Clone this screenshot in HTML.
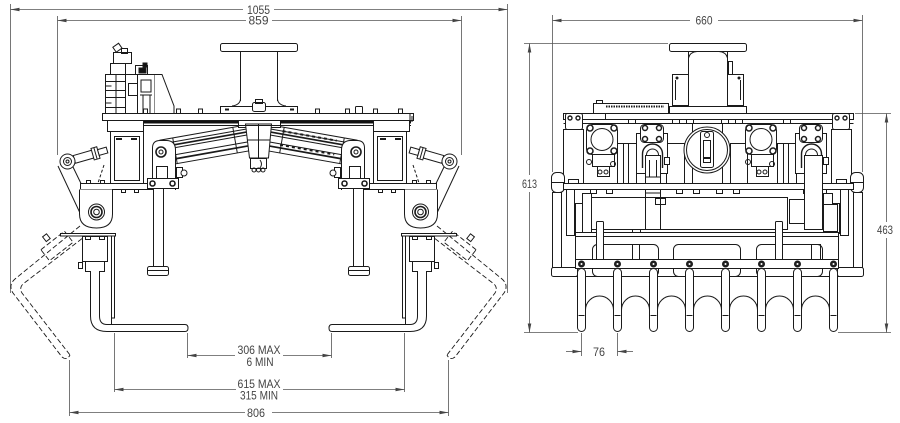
<!DOCTYPE html>
<html><head><meta charset="utf-8"><style>
html,body{margin:0;padding:0;background:#fff;}
svg{display:block;}
text{font-family:"Liberation Sans",sans-serif;font-size:11.5px;fill:#444;}
</style></head><body>
<svg width="900" height="423" viewBox="0 0 900 423" xmlns="http://www.w3.org/2000/svg">
<defs>
<marker id="a" viewBox="0 0 10 4" refX="10" refY="2" markerWidth="9" markerHeight="3.6" markerUnits="userSpaceOnUse" orient="auto"><path d="M0,0 L10,2 L0,4 Z" fill="#444"/></marker>
</defs>

<!-- ================= DIMENSIONS LEFT VIEW ================= -->
<g stroke="#555" stroke-width="0.8" fill="none">
<path d="M10.5,4 V293 M507.5,4 V293"/>
<path d="M243,9.5 H10.5" marker-end="url(#a)"/><path d="M274,9.5 H507.5" marker-end="url(#a)"/>
<path d="M57.5,16 V155 M461.5,16 V155"/>
<path d="M246,20.5 H57.5" marker-end="url(#a)"/><path d="M272,20.5 H461.5" marker-end="url(#a)"/>
<path d="M187.5,333 V358 M331.5,333 V358"/>
<path d="M235,355.5 H187.5" marker-end="url(#a)"/><path d="M283,355.5 H331.5" marker-end="url(#a)"/>
<path d="M114.5,333 V392 M404.5,333 V392"/>
<path d="M236,389.5 H114.5" marker-end="url(#a)"/><path d="M283,389.5 H404.5" marker-end="url(#a)"/>
<path d="M69.5,360 V416 M448.5,360 V416"/>
<path d="M245,412.5 H69.5" marker-end="url(#a)"/><path d="M272,412.5 H448.5" marker-end="url(#a)"/>
</g>
<text x="258.5" y="14" text-anchor="middle" textLength="23" lengthAdjust="spacingAndGlyphs">1055</text>
<text x="258.5" y="24.5" text-anchor="middle" textLength="20" lengthAdjust="spacingAndGlyphs">859</text>
<text x="259" y="354" text-anchor="middle" textLength="43" lengthAdjust="spacingAndGlyphs">306 MAX</text>
<text x="260" y="366" text-anchor="middle" textLength="27" lengthAdjust="spacingAndGlyphs">6 MIN</text>
<text x="259" y="388" text-anchor="middle" textLength="43" lengthAdjust="spacingAndGlyphs">615 MAX</text>
<text x="259" y="399.5" text-anchor="middle" textLength="38" lengthAdjust="spacingAndGlyphs">315 MIN</text>
<text x="256" y="417" text-anchor="middle" textLength="18" lengthAdjust="spacingAndGlyphs">806</text>

<!-- ================= LEFT VIEW DRAWING ================= -->
<g stroke="#1a1a1a" stroke-width="1" fill="none">
<g id="CY">
 <g transform="rotate(-10 162 152)">
  <rect x="162" y="140" width="88" height="26" fill="#fff"/>
  <line x1="175" y1="140" x2="175" y2="166"/>
  <line x1="162" y1="144" x2="250" y2="144"/>
  <line x1="175" y1="147" x2="250" y2="147" stroke-width="1.7"/>
  <line x1="175" y1="150" x2="250" y2="150"/>
  <line x1="162" y1="157" x2="250" y2="157"/>
  <line x1="175" y1="161" x2="250" y2="161" stroke-width="1.7"/>
  <line x1="236" y1="140" x2="236" y2="166"/>
 </g>
</g>
<use href="#CY" transform="translate(517,0) scale(-1,1)"/>
<g transform="rotate(10 355 152)" stroke-dasharray="3 3" stroke-width="2">
 <line x1="280" y1="144" x2="335" y2="144"/>
 <line x1="280" y1="158" x2="335" y2="158"/>
</g>
<rect x="238.5" y="120.5" width="42" height="7" fill="#fff"/>
<path d="M245.5,124 L271.5,124 L268.5,158 L249.5,158 Z" fill="#fff"/>
<line x1="247" y1="140" x2="270" y2="140"/>
<line x1="258.5" y1="124" x2="258.5" y2="158"/>
<rect x="250.5" y="158.5" width="16" height="10" fill="#fff"/>
<circle cx="254" cy="170" r="2"/><circle cx="258.5" cy="170" r="2"/><circle cx="263" cy="170" r="2"/>
<path d="M260,160 q3,4 0,8" />

<rect x="220.5" y="43.5" width="77" height="8" rx="2" fill="#fff"/>
<path d="M240.5,51.5 V101 M277.5,51.5 V101"/>
<path d="M240.5,99 Q240,105 232,106 M277.5,99 Q278,105 286,106"/>
<rect x="220.5" y="106.5" width="77" height="7" fill="#fff"/>
<rect x="252.5" y="102.5" width="13" height="9" rx="2" fill="#fff"/>
<rect x="255.5" y="99.5" width="7" height="4"/>
<path d="M225,109.5 h4 M290,109.5 h4" stroke-width="2"/>

<rect x="105.5" y="74.5" width="20" height="39" fill="#fff"/>
<path d="M105.5,81.5 h20 M105.5,90.5 h20 M105.5,97.5 h20 M105.5,107.5 h20 M105.5,86 h6 M105.5,103 h6"/>
<rect x="125.5" y="74.5" width="12" height="39" fill="#fff"/>
<rect x="128.5" y="83.5" width="9" height="12"/>
<rect x="137.5" y="74.5" width="17" height="39" fill="#fff"/>
<path d="M141,80 h10 v12 h-10 z M140,95 h12 M143,95 V113 M150,95 V113"/>
<path d="M154.5,74.5 L162,74.5 L174,106 L174,113.5 L154.5,113.5" fill="#fff"/>
<rect x="110.5" y="63.5" width="15" height="11" fill="#fff"/>
<rect x="113.5" y="52.5" width="18" height="11" fill="#fff"/>
<rect x="114" y="45" width="7" height="6" transform="rotate(-35 117 48)" fill="#fff"/>
<rect x="121.5" y="48.5" width="6" height="5"/>
<rect x="135.5" y="65.5" width="12" height="9" fill="#fff"/>
<rect x="139" y="68" width="7" height="5" fill="#111"/>
<rect x="143" y="63" width="4" height="4" fill="#111"/>
<line x1="116" y1="74.5" x2="116" y2="113"/>

<rect x="102.5" y="113.5" width="311" height="7" fill="#fff"/>
<rect x="107" y="121" width="131" height="2.5" fill="#111" stroke="none"/>
<rect x="280" y="121" width="131" height="2.5" fill="#111" stroke="none"/>
<line x1="107" y1="125.5" x2="411" y2="125.5"/>
<path d="M143.5,113 v-4 h4 v4 M176.5,113 v-4 h4 v4 M198.5,113 v-4 h4 v4 M315.5,113 v-4 h4 v4 M345.5,113 v-4 h4 v4 M373.5,113 v-4 h4 v4 M398.5,113 v-4 h4 v4"/>
<rect x="355.5" y="106.5" width="7" height="7" rx="1" fill="#fff"/>
<path d="M410,114 v8 M412,116 v6"/>

<g id="LH">
 <rect x="107.5" y="120.5" width="36" height="11" fill="#fff"/>
 <rect x="110.5" y="131.5" width="33" height="53" fill="#fff"/>
 <rect x="114.5" y="136.5" width="25" height="44"/>
 <path d="M116,139 h6 M131,139 h6" stroke-width="2"/>
 <rect x="80.5" y="183.5" width="95" height="6" fill="#fff"/>
 <path d="M86.5,189.5 v3 h4 v-3 M100.5,189.5 v3 h4 v-3 M121.5,189.5 v3 h4 v-3 M134.5,189.5 v3 h4 v-3"/>
 <path d="M86.5,183.5 v-3 h4 v3 M100.5,183.5 v-3 h4 v3"/>
 <path d="M58,166 L80,213 M73,167 L81,183.5"/>
 <g transform="rotate(-16 67 161)">
  <rect x="74.5" y="157.5" width="20" height="8" fill="#fff"/>
  <rect x="93.5" y="155.5" width="6" height="12" fill="#fff"/>
  <line x1="96.5" y1="155.5" x2="96.5" y2="167.5"/>
  <rect x="99.5" y="158.5" width="9" height="6" fill="#fff"/>
 </g>
 <circle cx="67.5" cy="161.5" r="7.5" fill="#fff"/>
 <circle cx="67.5" cy="161.5" r="4"/>
 <circle cx="67.5" cy="161.5" r="1.5"/>
 <path d="M104,165 L98,183" stroke-dasharray="3 2"/>
 <path d="M79.5,189.5 L79.5,214 Q79.5,228 96.5,228 Q112.5,228 112.5,214 L112.5,189.5" fill="#fff"/>
 <circle cx="96.5" cy="212" r="8" fill="#fff"/>
 <circle cx="96.5" cy="212" r="5.5" stroke-width="1.6"/>
 <circle cx="96.5" cy="212" r="2.8"/>
 <g stroke-dasharray="5 2.5" stroke-width="0.9">
  <path d="M80,226 L15,279 Q8,285 13,293 L62,357"/>
  <path d="M88,234 L23,284 Q19,288 22,293 L70,355"/>
  <path d="M62,357 Q67,361 70,355"/>
  <rect x="42" y="239" width="30" height="14" transform="rotate(-38 57 246)"/>
 </g>
 <rect x="44" y="235" width="5" height="6" transform="rotate(-38 46 238)" fill="#fff"/>
 <rect x="60.5" y="233.5" width="55" height="2.5" fill="#fff"/>
 <rect x="111.5" y="236" width="3" height="82" fill="#fff"/>
 <rect x="82.5" y="236.5" width="25" height="25" fill="#fff"/>
 <rect x="85.5" y="236.5" width="5" height="3"/><rect x="99.5" y="236.5" width="5" height="3"/>
 <rect x="85.5" y="261.5" width="19" height="10" fill="#fff"/>
 <rect x="78.5" y="262.5" width="4" height="6"/>
 <path d="M90.5,271 L90.5,316 Q90.5,331.5 107,331.5 L185,331.5 Q188,331.5 188,328 Q188,324.5 185,324.5 L107,324.5 Q99.5,324.5 99.5,316 L99.5,271" fill="#fff"/>
 <line x1="111.5" y1="318" x2="111.5" y2="324.5"/>
 <path d="M152.5,190 L152.5,148 Q152.5,140.5 160,140.5 L167,140.5 Q175.5,141 175.5,150 L175.5,190" fill="#fff"/>
 <circle cx="161" cy="152" r="5" fill="#fff" stroke-width="1.6"/>
 <circle cx="161" cy="152" r="2"/>
 <rect x="156.5" y="166.5" width="11" height="12"/>
 <rect x="147.5" y="178.5" width="31" height="10" fill="#fff"/>
 <circle cx="152.5" cy="183.5" r="2.5" stroke-width="1.6"/>
 <circle cx="172.5" cy="183.5" r="2.5" stroke-width="1.6"/>
 <rect x="153.5" y="188.5" width="10" height="78" fill="#fff"/>
 <rect x="147.5" y="266.5" width="21" height="9" rx="2" fill="#fff"/>
 <line x1="147.5" y1="270.5" x2="168.5" y2="270.5"/>
 <rect x="176.5" y="167.5" width="6" height="10" fill="#fff"/>
 <circle cx="184" cy="173" r="3" fill="#fff"/>
</g>
<use href="#LH" transform="translate(517,0) scale(-1,1)"/>
</g>

<!-- ================= DIMENSIONS RIGHT VIEW ================= -->
<g stroke="#555" stroke-width="0.8" fill="none">
<path d="M552.5,15 V172 M862.5,15 V172"/>
<path d="M690,20.5 H552.5" marker-end="url(#a)"/><path d="M718,20.5 H862.5" marker-end="url(#a)"/>
<path d="M524,43.5 H668 M524,332.5 H578"/>
<path d="M529.5,175 V43.5" marker-end="url(#a)"/><path d="M529.5,192 V332.5" marker-end="url(#a)"/>
<path d="M855,113.5 H891 M838,332.5 H891"/>
<path d="M886.5,222 V113.5" marker-end="url(#a)"/><path d="M886.5,238 V332.5" marker-end="url(#a)"/>
<path d="M581.5,333 V356 M617.5,333 V356"/>
<path d="M566,351.5 H581.5" marker-end="url(#a)"/><path d="M633,351.5 H617.5" marker-end="url(#a)"/>
</g>
<text x="704" y="24.5" text-anchor="middle" textLength="17" lengthAdjust="spacingAndGlyphs">660</text>
<text x="529.5" y="188" text-anchor="middle" textLength="15" lengthAdjust="spacingAndGlyphs">613</text>
<text x="885" y="234" text-anchor="middle" textLength="16" lengthAdjust="spacingAndGlyphs">463</text>
<text x="599" y="356" text-anchor="middle" textLength="12" lengthAdjust="spacingAndGlyphs">76</text>

<!-- ================= RIGHT VIEW DRAWING ================= -->
<g stroke="#1a1a1a" stroke-width="1" fill="none">
<rect x="669.5" y="43.5" width="77" height="8" rx="2" fill="#fff"/>
<path d="M688.5,51.5 V106 M727.5,51.5 V106"/>
<path d="M688.5,58 Q690,52 697,51.5 M727.5,58 Q726,52 719,51.5"/>
<rect x="672.5" y="74.5" width="16" height="31" fill="#fff"/>
<rect x="727.5" y="74.5" width="16" height="31" fill="#fff"/>
<path d="M675.5,80 v20 M740.5,80 v20"/>
<circle cx="677" cy="78" r="1" fill="#111"/><circle cx="739" cy="78" r="1" fill="#111"/>
<rect x="728.5" y="61.5" width="4" height="13" fill="#fff"/>
<rect x="669.5" y="106.5" width="77" height="7" fill="#fff"/>
<rect x="593.5" y="103.5" width="75" height="10" fill="#fff"/>
<path d="M606,106.5 H664" stroke-width="2" stroke-dasharray="1.5 1"/>
<rect x="596.5" y="100.5" width="6" height="3"/>
<rect x="563.5" y="113.5" width="290" height="6" fill="#fff"/>
<path d="M605.5,113.5 v6 M840.5,113.5 v6"/>
<line x1="563.5" y1="123.5" x2="853.5" y2="123.5"/>
<path d="M672.5,119.5 v4 h7 v-4 M686.5,119.5 v4 h7 v-4 M721.5,119.5 v4 h7 v-4 M735.5,119.5 v4 h7 v-4 M628.5,119.5 v4 h7 v-4 M783.5,119.5 v4 h7 v-4"/>
<rect x="617.5" y="143.5" width="19" height="40" fill="#fff"/>
<path d="M623.5,143.5 V183 M628.5,143.5 V183"/>
<rect x="666.5" y="143.5" width="18" height="40" fill="#fff"/>
<rect x="730.5" y="143.5" width="17" height="40" fill="#fff"/>
<rect x="777.5" y="143.5" width="19" height="40" fill="#fff"/>
<path d="M783.5,143.5 V183 M788.5,143.5 V183"/>
<rect x="692.5" y="123.5" width="30" height="60" fill="#fff"/>
<circle cx="707" cy="150" r="23" fill="#fff"/>
<circle cx="707" cy="150" r="20.5"/>
<rect x="700.5" y="131.5" width="13" height="36" rx="2" fill="#fff"/>
<rect x="703.5" y="140.5" width="7" height="22"/>
<circle cx="707" cy="135" r="2.5"/>
<path d="M703,158 h8" stroke-width="2"/>
<g id="PM">
 <rect x="586.5" y="124.5" width="31" height="30" rx="6" fill="#fff"/>
 <circle cx="602" cy="139.5" r="11"/>
 <circle cx="590" cy="128" r="3" stroke-width="1.5"/><circle cx="614" cy="128" r="3" stroke-width="1.5"/>
 <circle cx="590" cy="151" r="3" stroke-width="1.5"/><circle cx="614" cy="151" r="3" stroke-width="1.5"/>
 <rect x="592.5" y="154.5" width="22" height="12" fill="#fff"/>
 <rect x="597.5" y="166.5" width="12" height="10" fill="#fff"/>
 <circle cx="600" cy="172" r="2"/><circle cx="606" cy="172" r="2"/>
 <circle cx="589" cy="162" r="2.5"/><circle cx="613" cy="164" r="2.5"/>
 <rect x="636.5" y="133.5" width="31" height="40" fill="#fff"/>
 <rect x="640.5" y="124.5" width="23" height="18" rx="4" fill="#fff"/>
 <circle cx="645" cy="128" r="2.5" stroke-width="1.5"/><circle cx="659" cy="128" r="2.5" stroke-width="1.5"/>
 <circle cx="645" cy="139" r="2.5" stroke-width="1.5"/><circle cx="659" cy="139" r="2.5" stroke-width="1.5"/>
 <path d="M642.5,168 V154 A10,10 0 0 1 662.5,154 V168" fill="#fff" stroke-width="1.4"/>
 <path d="M646.5,168 V155 A6,6 0 0 1 658.5,155 V168"/>
 <rect x="645.5" y="155.5" width="15" height="74" fill="#fff"/>
 <path d="M645.5,177 h15 M645.5,193 h15 M645.5,211 h15 M645.5,214 h15 M649.5,160 V177 M656.5,160 V177"/>
 <rect x="664.5" y="157.5" width="5" height="7" fill="#fff"/>
</g>
<use href="#PM" transform="translate(159,0)"/>
<g id="SB">
 <rect x="565.5" y="113.5" width="17" height="16" rx="2" fill="#fff"/>
 <circle cx="570" cy="118" r="2" stroke-width="1.4"/><circle cx="578" cy="118" r="2" stroke-width="1.4"/>
 <rect x="563.5" y="129.5" width="20" height="54" fill="#fff"/>
 <rect x="568.5" y="179.5" width="10" height="4"/>
 <rect x="551.5" y="172.5" width="13" height="20" rx="5" fill="#fff"/>
 <line x1="551.5" y1="182.5" x2="564.5" y2="182.5"/>
 <rect x="552.5" y="192.5" width="9" height="83" fill="#fff"/>
 <rect x="566.5" y="189.5" width="8" height="46" fill="#fff"/>
 <rect x="575.5" y="203.5" width="10" height="30" fill="#fff"/>
 <rect x="582.5" y="193.5" width="9" height="40" fill="#fff"/>
</g>
<use href="#SB" transform="translate(1415,0) scale(-1,1)"/>
<rect x="563.5" y="183.5" width="290" height="6" fill="#fff"/>
<path d="M590.5,189.5 v4 h6 v-4 M606.5,189.5 v4 h6 v-4 M676.5,189.5 v4 h6 v-4 M693.5,189.5 v4 h6 v-4 M716.5,189.5 v4 h6 v-4 M733.5,189.5 v4 h6 v-4 M803.5,189.5 v4 h6 v-4 M820.5,189.5 v4 h6 v-4"/>
<rect x="591.5" y="197.5" width="196" height="32" fill="#fff"/>
<path d="M645.5,197.5 V229 M660.5,197.5 V229"/>
<rect x="655.5" y="198.5" width="10" height="6"/>
<rect x="789.5" y="199.5" width="15" height="24" fill="#fff"/>
<rect x="804.5" y="155.5" width="18" height="74" fill="#fff"/>
<rect x="823.5" y="204.5" width="14" height="27" fill="#fff"/>
<rect x="632.5" y="229.5" width="8" height="5"/>
<rect x="575.5" y="232.5" width="263" height="44" fill="#fff"/>
<line x1="575.5" y1="236.5" x2="838.5" y2="236.5"/>
<rect x="592.5" y="244.5" width="66" height="32" rx="5"/>
<rect x="673.5" y="244.5" width="67" height="32" rx="5"/>
<rect x="756.5" y="244.5" width="66" height="32" rx="5"/>
<rect x="632.5" y="244.5" width="7" height="16"/>
<rect x="811.5" y="244.5" width="9" height="16"/>
<rect x="596.5" y="221.5" width="7" height="40" rx="1" fill="#fff"/>
<rect x="775.5" y="221.5" width="7" height="40" rx="1" fill="#fff"/>
<rect x="551.5" y="267.5" width="26" height="9" rx="2" fill="#fff"/>
<rect x="837.5" y="267.5" width="26" height="9" rx="2" fill="#fff"/>
<rect x="575.5" y="259.5" width="263" height="9" fill="#fff"/>
<g id="T">
 <rect x="577.5" y="268.5" width="8" height="63" rx="4" fill="#fff"/>
 <line x1="578.5" y1="315.5" x2="584.5" y2="315.5"/>
 <path d="M585.5,316 V310 A14,14 0 0 1 613.5,310 V316"/>
 <circle cx="581.5" cy="264" r="3" fill="#222"/>
 <circle cx="581.5" cy="264" r="1" fill="#fff" stroke="none"/>
</g>
<use href="#T" transform="translate(36,0)"/>
<use href="#T" transform="translate(72,0)"/>
<use href="#T" transform="translate(108,0)"/>
<use href="#T" transform="translate(144,0)"/>
<use href="#T" transform="translate(180,0)"/>
<use href="#T" transform="translate(216,0)"/>
<rect x="829.5" y="268.5" width="8" height="63" rx="4" fill="#fff"/>
<line x1="830.5" y1="315.5" x2="836.5" y2="315.5"/>
<circle cx="833.5" cy="264" r="3" fill="#222"/>
<circle cx="833.5" cy="264" r="1" fill="#fff" stroke="none"/>
</g>
</svg>
</body></html>
